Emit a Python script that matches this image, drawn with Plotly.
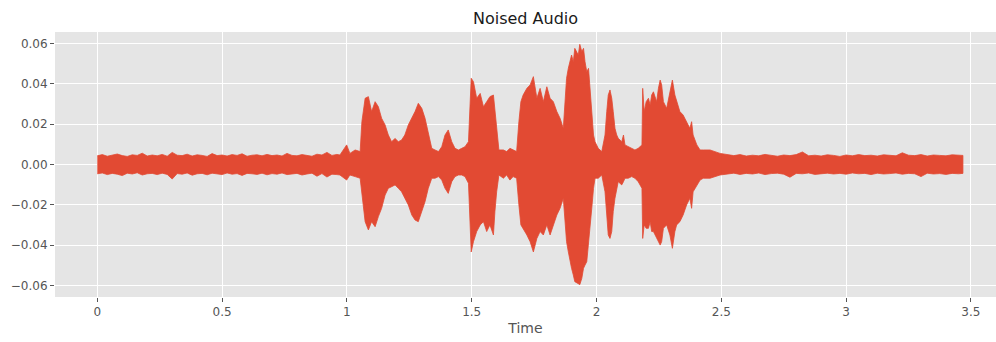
import plotly.graph_objects as go

# ---- Data (envelope of the waveform, amplitudes in units of 1e-3) ----
head_t = [0.00, 0.02, 0.04, 0.06, 0.08, 0.10, 0.12, 0.14, 0.16, 0.18,
          0.20, 0.22, 0.24, 0.26, 0.28, 0.30, 0.32, 0.34, 0.36, 0.38,
          0.40, 0.42, 0.44, 0.46, 0.48, 0.50, 0.52, 0.54, 0.56, 0.58,
          0.60, 0.62, 0.64, 0.66, 0.68, 0.70, 0.72, 0.74, 0.76, 0.78,
          0.80, 0.82, 0.84, 0.86, 0.88, 0.90, 0.92, 0.94, 0.96]
head_up = [4.3, 4.9, 4.1, 4.6, 5.2, 4.4, 4.0, 4.8, 4.5, 5.6,
           4.2, 4.7, 4.3, 5.0, 4.1, 6.0, 4.6, 4.4, 5.1, 4.2,
           4.8, 4.5, 4.0, 5.4, 4.4, 4.7, 4.2, 4.9, 4.5, 5.3,
           4.1, 4.6, 4.8, 4.3, 5.0, 4.4, 4.7, 4.2, 5.5, 4.5,
           4.3, 4.9, 4.6, 4.1, 5.1, 4.7, 6.0, 4.5, 5.0]
head_lo = [-4.6, -4.2, -5.0, -4.4, -4.8, -5.5, -4.3, -4.7, -4.1, -5.2,
           -4.6, -4.4, -5.0, -4.3, -4.9, -7.2, -4.5, -4.8, -4.2, -5.3,
           -4.6, -4.4, -5.1, -4.3, -4.7, -5.0, -4.2, -4.8, -4.5, -5.4,
           -4.4, -4.6, -4.9, -4.3, -5.1, -4.5, -4.8, -4.2, -5.0, -4.6,
           -4.4, -5.2, -4.7, -4.3, -5.8, -4.5, -6.2, -4.8, -5.0]

speech_t = [0.972, 0.999, 1.012, 1.033, 1.053, 1.060, 1.073, 1.086, 1.099, 1.113,
            1.126, 1.139, 1.153, 1.166, 1.179, 1.193, 1.206, 1.219, 1.232, 1.246,
            1.260, 1.273, 1.286, 1.300, 1.313, 1.326, 1.340, 1.353, 1.367, 1.380,
            1.393, 1.406, 1.420, 1.433, 1.447, 1.460, 1.473, 1.487, 1.498, 1.507,
            1.520, 1.534, 1.547, 1.560, 1.573, 1.587, 1.593, 1.600, 1.609, 1.627,
            1.640, 1.653, 1.666, 1.680, 1.689, 1.697, 1.706, 1.721, 1.734, 1.747,
            1.761, 1.774, 1.787, 1.801, 1.814, 1.827, 1.841, 1.854, 1.867, 1.880,
            1.887, 1.900, 1.907, 1.913, 1.927, 1.933, 1.941, 1.948, 1.954, 1.961,
            1.968, 1.974, 1.981, 1.988, 1.994, 2.007, 2.021, 2.034, 2.041, 2.047,
            2.054, 2.061, 2.067, 2.074, 2.081, 2.087, 2.101, 2.108, 2.114, 2.127,
            2.141, 2.154, 2.167, 2.182, 2.185, 2.191, 2.199, 2.208, 2.215, 2.221,
            2.228, 2.241, 2.248, 2.255, 2.261, 2.268, 2.281, 2.294, 2.304, 2.314,
            2.321, 2.334, 2.347, 2.361, 2.374, 2.381, 2.387, 2.402, 2.415, 2.428,
            2.455, 2.495]
speech_up = [4.7, 9.7, 5.5, 7.2, 6.4, 21.2, 32.8, 33.6, 26.2, 31.1,
             28.6, 22.9, 19.6, 14.6, 11.3, 12.9, 11.3, 12.1, 14.6, 19.6,
             22.9, 26.2, 30.3, 27.8, 22.9, 16.3, 8.0, 7.2, 6.4, 8.8,
             14.6, 17.1, 11.3, 8.0, 7.2, 8.0, 8.8, 11.3, 42.7, 41.0,
             32.8, 35.2, 28.6, 31.1, 33.6, 34.4, 26.2, 16.3, 7.2, 7.2,
             6.4, 8.0, 7.2, 6.4, 21.2, 31.1, 34.4, 37.7, 39.4, 43.5,
             32.8, 37.7, 31.1, 38.5, 32.8, 31.1, 26.2, 22.9, 17.9, 42.7,
             47.6, 54.2, 50.9, 57.5, 54.2, 59.5, 55.9, 57.5, 50.9, 45.9,
             47.6, 37.7, 26.2, 14.6, 11.3, 8.0, 6.4, 14.6, 26.2, 34.4,
             36.9, 32.8, 26.2, 17.9, 14.6, 13.0, 11.3, 14.6, 9.7, 8.8,
             8.0, 7.2, 8.0, 9.7, 37.7, 26.2, 31.1, 32.8, 29.4, 34.4,
             36.0, 31.1, 37.7, 41.8, 39.4, 31.1, 27.8, 36.0, 41.8, 34.4,
             31.1, 26.2, 24.5, 21.2, 17.9, 21.2, 14.6, 9.7, 7.2, 7.2,
             7.2, 5.5]
speech_lo = [-5.2, -7.7, -5.2, -6.0, -6.8, -13.5, -28.3, -32.4, -28.3, -30.8,
             -25.8, -21.7, -15.1, -11.8, -11.0, -10.1, -11.8, -13.5, -16.7, -20.0,
             -25.0, -27.5, -28.3, -23.3, -18.4, -11.8, -6.8, -6.8, -6.0, -7.7,
             -11.8, -14.3, -8.5, -6.0, -5.2, -5.2, -6.0, -9.3, -43.3, -38.2,
             -33.2, -29.9, -28.3, -33.2, -29.9, -34.9, -23.3, -13.5, -5.2, -6.8,
             -5.2, -7.7, -6.0, -6.8, -20.0, -29.9, -31.6, -34.9, -38.2, -43.3,
             -36.6, -33.2, -34.9, -29.9, -34.9, -29.9, -25.0, -21.7, -16.7, -38.2,
             -43.2, -51.4, -54.7, -58.0, -59.0, -59.5, -56.4, -51.4, -49.8, -48.1,
             -41.5, -31.6, -21.7, -11.8, -6.8, -6.8, -5.2, -13.5, -25.0, -34.9,
             -36.6, -33.2, -23.3, -16.7, -11.8, -8.5, -10.1, -8.5, -6.8, -6.8,
             -6.0, -6.8, -8.5, -11.8, -36.6, -29.9, -31.6, -31.6, -28.3, -33.2,
             -33.2, -36.6, -38.2, -39.9, -38.2, -31.6, -29.9, -34.9, -41.5, -33.2,
             -29.9, -28.3, -25.0, -20.0, -16.7, -21.7, -13.5, -10.1, -7.7, -6.8,
             -6.8, -5.2]

tail_t = [2.525, 2.550, 2.575, 2.600, 2.625, 2.650, 2.675, 2.700, 2.725, 2.750,
          2.775, 2.800, 2.825, 2.850, 2.875, 2.900, 2.925, 2.950, 2.975, 3.000,
          3.025, 3.050, 3.075, 3.100, 3.125, 3.150, 3.175, 3.200, 3.225, 3.250,
          3.275, 3.300, 3.325, 3.350, 3.375, 3.400, 3.425, 3.450, 3.468]
tail_up = [4.8, 4.4, 4.9, 4.2, 4.6, 4.3, 5.0, 4.5, 4.1, 4.7,
           4.4, 4.9, 6.2, 4.3, 4.6, 4.2, 4.8, 4.5, 4.0, 4.7,
           4.3, 4.9, 4.4, 4.6, 4.2, 4.8, 4.5, 4.3, 5.8, 4.6,
           4.4, 4.9, 4.2, 4.7, 4.5, 4.3, 4.8, 4.6, 4.5]
tail_lo = [-4.6, -4.3, -4.9, -4.4, -4.7, -4.2, -5.0, -4.5, -4.3, -4.8,
           -6.3, -4.4, -4.6, -4.2, -4.9, -4.5, -4.3, -4.7, -4.4, -4.8,
           -4.2, -4.6, -4.4, -5.0, -4.3, -4.7, -4.5, -4.2, -4.8, -4.4,
           -4.6, -6.0, -4.3, -4.7, -4.5, -4.9, -4.4, -4.6, -4.4]

x_tick_vals = [0, 0.5, 1, 1.5, 2, 2.5, 3, 3.5]
x_tick_labels = ["0", "0.5", "1", "1.5", "2", "2.5", "3", "3.5"]
y_tick_vals = [-0.06, -0.04, -0.02, 0.0, 0.02, 0.04, 0.06]

# ---- Build the envelope polygon ----
time_s = head_t + speech_t + tail_t
upper = [v * 1e-3 for v in head_up + speech_up + tail_up]
lower = [v * 1e-3 for v in head_lo + speech_lo + tail_lo]

wave_color = "#E24A33"
fig = go.Figure()
fig.add_trace(go.Scatter(
    x=time_s + time_s[::-1],
    y=upper + lower[::-1],
    mode="lines",
    fill="toself",
    fillcolor=wave_color,
    line=dict(color=wave_color, width=0.8),
    hoverinfo="skip",
    showlegend=False,
))

tick_color = "#555555"
fig.update_layout(
    width=996, height=342,
    margin=dict(l=55, r=0, t=32, b=45),
    paper_bgcolor="white",
    plot_bgcolor="#E5E5E5",
    font=dict(family="DejaVu Sans", color=tick_color),
    title=dict(text="Noised Audio", x=0.5, xref="paper", xanchor="center",
               y=1 - 18 / 342, yref="container", yanchor="middle",
               font=dict(size=16, color="#1a1a1a")),
    showlegend=False,
)
fig.update_xaxes(
    range=[-0.1695, 3.6005],
    tickvals=x_tick_vals, ticktext=x_tick_labels,
    showgrid=True, gridcolor="white", gridwidth=1,
    zeroline=False, showline=False,
    ticks="outside", ticklen=4, tickcolor=tick_color, tickwidth=1,
    tickfont=dict(size=12, color=tick_color),
    title=dict(text="Time", font=dict(size=14, color=tick_color), standoff=4),
)
fig.update_yaxes(
    range=[-0.0656, 0.0656],
    tickvals=y_tick_vals, tickformat=".2f",
    showgrid=True, gridcolor="white", gridwidth=1,
    zeroline=False, showline=False,
    ticks="outside", ticklen=4, tickcolor=tick_color, tickwidth=1,
    tickfont=dict(size=12, color=tick_color),
)

fig.write_html("out.html")
